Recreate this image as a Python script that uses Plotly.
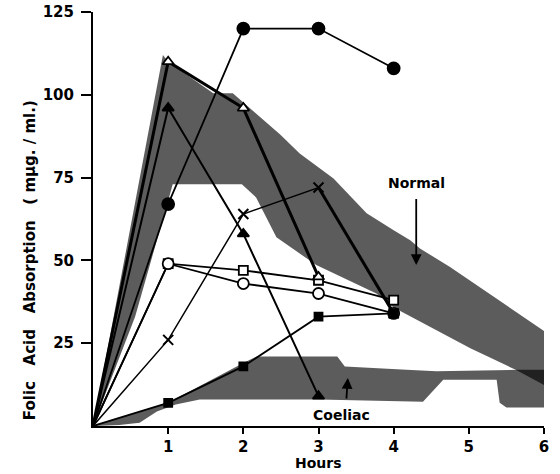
import plotly.graph_objects as go

hours = [0, 1, 2, 3, 4]

filled_circle = [0, 67, 120, 120, 108]
open_triangle = [0, 110, 96, 45]
filled_triangle = [0, 96, 58, 9]
cross = [0, 26, 64, 72, 34]
open_square = [0, 49, 47, 44, 38]
open_circle = [0, 49, 43, 40, 34]
filled_square = [0, 7, 18, 33, 34]

normal_x = [0, 0.93, 1.0, 1.6, 1.86, 2.49, 2.75, 3.2, 3.64, 4.0, 4.22, 4.35, 4.75, 6.0,
            6.0, 5.63, 5.02, 4.0, 3.77, 2.97, 2.44, 2.17, 1.98, 1.06, 1.0, 0.56, 0]
normal_y = [0, 112, 110, 100.5, 100.5, 88, 82.3, 74.7, 64.2, 59.1, 56.1, 53.6, 48, 28.7,
            12.4, 16.9, 23.5, 35.8, 40, 48.6, 57, 69, 73, 73, 68, 33, 0]

coeliac_x = [0, 1, 2, 2.18, 3.25, 3.35, 4.17, 4.57, 5.67, 6.0,
             6.0, 5.5, 5.41, 5.37, 4.66, 4.39, 3.0, 1.42, 1.1, 0.85, 0.62, 0.35, 0]
coeliac_y = [0, 7, 19, 21, 21, 18, 17, 16.5, 17, 17,
             5.6, 5.6, 7, 14, 14, 7.3, 8, 8, 6.5, 4.4, 1, 0.3, 0]

x_ticks = [1, 2, 3, 4, 5, 6]
y_ticks = [25, 50, 75, 100, 125]

FONT = "DejaVu Sans"
fig = go.Figure()

band_fill = "rgba(0,0,0,0.64)"
fig.add_trace(go.Scatter(x=normal_x, y=normal_y, fill="toself", fillcolor=band_fill,
                         mode="none", hoverinfo="skip", showlegend=False))
fig.add_trace(go.Scatter(x=coeliac_x, y=coeliac_y, fill="toself", fillcolor=band_fill,
                         mode="none", hoverinfo="skip", showlegend=False))


def series(xs, ys, symbol, size, fill, width=1.8, lw=1.8):
    sizes = [0] + [size] * (len(ys) - 1)
    fig.add_trace(go.Scatter(
        x=xs[:len(ys)], y=ys, mode="lines+markers",
        line=dict(color="black", width=width),
        marker=dict(symbol=symbol, size=sizes, color=fill, opacity=1,
                    line=dict(color="black", width=lw)),
        showlegend=False, cliponaxis=False))


series(hours, open_square, "square", 9, "white")
series(hours, open_circle, "circle", 11, "white")
series(hours, filled_square, "square", 8, "black")
series(hours, cross, "x-thin", 10, "black", width=1.5, lw=2)
fig.add_trace(go.Scatter(x=hours[3:], y=cross[3:], mode="lines",
                         line=dict(color="black", width=3), showlegend=False))
series(hours, filled_triangle, "triangle-up", 10, "black", width=2)
series(hours, open_triangle, "triangle-up", 10, "white", width=3, lw=1.8)
series(hours, filled_circle, "circle", 12, "black", width=1.8)

fig.add_annotation(x=4.31, y=73.3, text="Normal", showarrow=False,
                   font=dict(family=FONT, size=14, color="black", weight="bold"))
fig.add_annotation(x=4.3, y=48.6, ax=4.3, ay=69, axref="x", ayref="y", xref="x", yref="y",
                   text="", showarrow=True, arrowhead=2, arrowsize=1.2, arrowwidth=1.8,
                   arrowcolor="black")
fig.add_annotation(x=3.31, y=3.4, text="Coeliac", showarrow=False,
                   font=dict(family=FONT, size=14, color="black", weight="bold"))
fig.add_annotation(x=3.39, y=14.5, ax=3.37, ay=7.8, axref="x", ayref="y", xref="x", yref="y",
                   text="", showarrow=True, arrowhead=2, arrowsize=1.2, arrowwidth=1.8,
                   arrowcolor="black")

# axis titles
sp = "\u00a0" * 3
fig.add_annotation(xref="paper", yref="paper", x=-0.138, y=0.40, xanchor="center",
                   text="Folic" + sp + "Acid" + sp + "Absorption" + sp + "(\u00a0mμg.\u00a0/\u00a0ml.)",
                   textangle=-90, showarrow=False,
                   font=dict(family=FONT, size=15, color="black", weight="bold"))
fig.add_annotation(xref="x", yref="paper", x=3, y=-0.09, yanchor="middle",
                   text="Hours", showarrow=False,
                   font=dict(family=FONT, size=14, color="black", weight="bold"))

fig.update_layout(
    width=560, height=474, margin=dict(l=93, r=16, t=12, b=48),
    paper_bgcolor="white", plot_bgcolor="white",
    font=dict(family=FONT, size=15, color="black", weight="bold"),
    xaxis=dict(range=[0, 6], tickvals=x_ticks, ticktext=[str(t) for t in x_ticks],
               showgrid=False, zeroline=False, showline=True, linecolor="black", linewidth=2,
               ticks="outside", ticklen=6, tickwidth=2, tickcolor="black",
               ticklabelstandoff=0, automargin=False),
    yaxis=dict(range=[0, 125], tickvals=y_ticks, ticktext=[str(t) for t in y_ticks],
               showgrid=False, zeroline=False, showline=True, linecolor="black", linewidth=2,
               ticks="outside", ticklen=10, tickwidth=2, tickcolor="black",
               ticklabelstandoff=4, automargin=False),
)

fig.write_html("out.html")
